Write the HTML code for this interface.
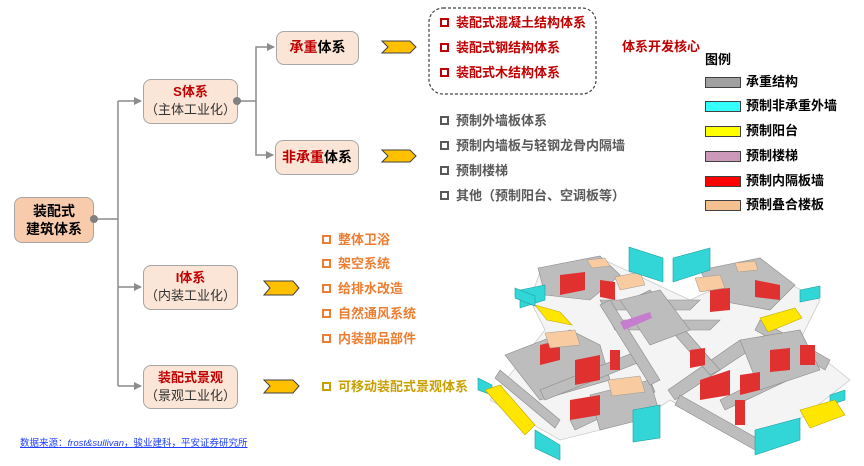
<!DOCTYPE html>
<html><head><meta charset="utf-8"><style>
*{margin:0;padding:0;box-sizing:border-box}
body{width:864px;height:466px;background:#fff;position:relative;overflow:hidden;font-family:"Liberation Sans","Noto Sans CJK SC",sans-serif}
.n{position:absolute;border:1.5px solid #a6a6a6;border-radius:8px;background:#fbe5d6;text-align:center;font-weight:bold;color:#000}
.t{position:absolute;font-size:13px;font-weight:bold;white-space:nowrap;line-height:16px}
.t i{display:inline-block;width:9px;height:9px;border:2px solid currentColor;margin-right:7px;vertical-align:0px;font-style:normal}
.r{color:#c00000}.g{color:#595959}.o{color:#ed7d31}.y{color:#c9a000}
.sw{position:absolute;left:705px;width:36px;height:11px;border:1.5px solid #404040}
.lt{position:absolute;left:746px;font-size:13px;font-weight:bold;line-height:16px}
.sub{font-weight:normal;font-size:13px;color:#333}
</style></head><body>
<svg width="864" height="466" style="position:absolute;left:0;top:0">
<defs><marker id="a" markerWidth="8" markerHeight="8" refX="7" refY="4" orient="auto" markerUnits="userSpaceOnUse"><path d="M0,0L8,4L0,8z" fill="#8c8c8c"/></marker></defs>
<g stroke="#8c8c8c" stroke-width="1.5" fill="none">
<path d="M94,219H118"/><path d="M118,101V386"/>
<path d="M118,101H141" marker-end="url(#a)"/><path d="M118,287H141" marker-end="url(#a)"/><path d="M118,386H141" marker-end="url(#a)"/>
<path d="M237,101H256V47H274" marker-end="url(#a)"/><path d="M256,101V155H273" marker-end="url(#a)"/>
</g>
<g fill="#ffc000" stroke="#404040" stroke-width="1">
<path d="M382,41H410L416,47L410,53H382L388,47Z"/>
<path d="M382,150H410L416,156L410,162H382L388,156Z"/>
<path d="M264,281H293L299,288L293,295H264L270,288Z"/>
<path d="M264,380H293L299,386L293,393H264L270,386Z"/>
</g>
<rect x="429" y="8" width="167" height="86" rx="14" fill="none" stroke="#404040" stroke-width="1.2" stroke-dasharray="3,2"/>
<!-- building -->
<polygon points="540,272 600,258 690,300 760,268 820,300 800,340 850,380 760,450 670,400 640,420 560,440 490,400 545,330 530,300" fill="#f4f4f4" stroke="#ccc" stroke-width="0.8"/>
<g fill="#bdbdbd" stroke="#8a8a8a" stroke-width="0.6">
<polygon points="538,268 600,256 620,275 590,300 545,295"/>
<polygon points="700,270 760,258 795,285 770,310 715,300"/>
<polygon points="600,300 700,300 690,310 605,310"/>
<polygon points="610,320 720,320 710,330 615,330"/>
<polygon points="505,355 570,330 600,345 610,380 540,400"/>
<polygon points="540,390 640,350 645,360 545,400"/>
<polygon points="570,420 650,380 655,392 575,430"/>
<polygon points="668,390 740,340 750,350 675,400"/>
<polygon points="720,400 800,360 810,370 725,410"/>
<polygon points="590,395 650,380 660,415 600,430"/>
<polygon points="680,395 760,440 755,450 675,405"/>
<polygon points="610,300 660,380 650,385 600,305"/>
<polygon points="650,290 720,370 710,375 640,295"/>
<polygon points="760,320 830,360 825,370 755,330"/>
<polygon points="740,340 800,330 820,370 760,390"/>
<polygon points="500,370 560,420 555,428 495,378"/>
<polygon points="620,300 660,290 690,330 650,345"/>
</g>
<g fill="#e03030">
<polygon points="560,275 585,272 585,290 560,295"/><polygon points="600,280 615,282 615,300 600,297"/>
<polygon points="710,290 730,288 730,310 710,312"/><polygon points="755,280 780,285 780,300 755,297"/>
<polygon points="540,345 560,340 560,360 540,365"/><polygon points="575,360 600,355 600,380 575,385"/>
<polygon points="570,400 600,395 600,415 570,420"/><polygon points="700,380 730,370 730,395 700,400"/>
<polygon points="740,375 760,372 760,390 740,395"/><polygon points="770,350 790,348 790,370 770,372"/>
<polygon points="690,350 705,348 705,365 690,368"/><polygon points="800,345 815,345 815,365 800,365"/>
<polygon points="610,350 620,350 620,370 610,370"/><polygon points="735,400 745,400 745,425 735,425"/>
</g>
<g fill="#f8cba0" stroke="#999" stroke-width="0.5">
<polygon points="587,260 605,258 610,266 592,268"/><polygon points="615,277 640,272 645,285 620,290"/>
<polygon points="695,278 720,275 725,288 700,292"/><polygon points="735,263 755,261 758,270 738,272"/>
<polygon points="545,333 575,330 580,345 550,348"/><polygon points="608,380 640,376 645,392 612,396"/>
</g>
<polygon points="620,322 650,312 652,318 624,330" fill="#c77dcf"/>
<g fill="#33d6d6" stroke="#1aa0a0" stroke-width="0.6">
<polygon points="629,247 663,258 663,282 629,271"/><polygon points="673,258 710,248 710,270 673,282"/>
<polygon points="520,290 545,285 545,300 520,308"/><polygon points="478,378 492,385 492,395 478,390"/>
<polygon points="535,430 560,445 560,460 535,448"/><polygon points="633,410 660,405 660,438 633,442"/>
<polygon points="755,430 800,418 800,440 755,455"/><polygon points="800,290 820,286 820,298 800,302"/>
<polygon points="830,395 845,390 845,400 830,405"/><polygon points="515,288 535,296 535,306 515,298"/>
</g>
<g fill="#ffe600" stroke="#c0a800" stroke-width="0.6">
<polygon points="535,305 560,312 572,325 547,320"/><polygon points="760,318 795,308 802,318 768,332"/>
<polygon points="485,390 500,385 535,425 525,435"/><polygon points="800,410 835,400 845,415 810,428"/>
</g>
</svg>

<div class="n" style="left:14px;top:197px;width:80px;height:46px;background:#f8cbad;font-size:14px;line-height:18px;padding-top:4px">装配式<br>建筑体系</div>
<div class="n" style="left:143px;top:79px;width:95px;height:45px;font-size:13px;line-height:18px;padding-top:3px"><span class="r">S体系</span><br><span class="sub">（主体工业化）</span></div>
<div class="n" style="left:276px;top:31px;width:83px;height:34px;font-size:14px;line-height:31px"><span class="r">承重</span>体系</div>
<div class="n" style="left:275px;top:140px;width:84px;height:35px;font-size:14px;line-height:32px"><span class="r">非承重</span>体系</div>
<div class="n" style="left:143px;top:265px;width:95px;height:45px;font-size:13px;line-height:18px;padding-top:3px"><span class="r">I体系</span><br><span class="sub">（内装工业化）</span></div>
<div class="n" style="left:143px;top:365px;width:95px;height:44px;font-size:13px;line-height:18px;padding-top:3px"><span class="r">装配式景观</span><br><span class="sub">（景观工业化）</span></div>

<svg width="864" height="466" style="position:absolute;left:0;top:0">
<circle cx="94" cy="219" r="4" fill="#808080"/><circle cx="237" cy="101" r="4" fill="#808080"/>
</svg>

<div class="t r" style="left:440px;top:15px"><i></i>装配式混凝土结构体系</div>
<div class="t r" style="left:440px;top:40px"><i></i>装配式钢结构体系</div>
<div class="t r" style="left:440px;top:65px"><i></i>装配式木结构体系</div>
<div class="t r" style="left:622px;top:39px">体系开发核心</div>
<div class="t g" style="left:440px;top:113px"><i></i>预制外墙板体系</div>
<div class="t g" style="left:440px;top:138px"><i></i>预制内墙板与轻钢龙骨内隔墙</div>
<div class="t g" style="left:440px;top:163px"><i></i>预制楼梯</div>
<div class="t g" style="left:440px;top:188px"><i></i>其他（预制阳台、空调板等）</div>
<div class="t o" style="left:322px;top:232px"><i></i>整体卫浴</div>
<div class="t o" style="left:322px;top:256px"><i></i>架空系统</div>
<div class="t o" style="left:322px;top:281px"><i></i>给排水改造</div>
<div class="t o" style="left:322px;top:306px"><i></i>自然通风系统</div>
<div class="t o" style="left:322px;top:331px"><i></i>内装部品部件</div>
<div class="t y" style="left:322px;top:379px"><i></i>可移动装配式景观体系</div>

<div class="t" style="left:705px;top:52px">图例</div>
<div class="sw" style="top:77px;background:#a0a0a0"></div><div class="lt" style="top:74px">承重结构</div>
<div class="sw" style="top:101px;background:#33ffff"></div><div class="lt" style="top:98px">预制非承重外墙</div>
<div class="sw" style="top:126px;background:#ffff00"></div><div class="lt" style="top:123px">预制阳台</div>
<div class="sw" style="top:151px;background:#cc99bb"></div><div class="lt" style="top:148px">预制楼梯</div>
<div class="sw" style="top:176px;background:#ff0000"></div><div class="lt" style="top:173px">预制内隔板墙</div>
<div class="sw" style="top:200px;background:#f4c090"></div><div class="lt" style="top:197px">预制叠合楼板</div>

<div style="position:absolute;left:20px;top:435px;font-size:9.5px;color:#1f3fff;text-decoration:underline;white-space:nowrap">数据来源：<i>frost&amp;sullivan</i>，骏业建科，平安证券研究所</div>
</body></html>
